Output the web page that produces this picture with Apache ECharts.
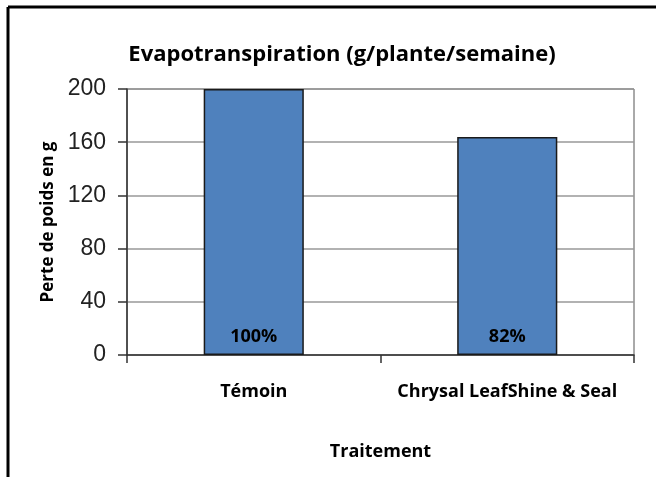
<!DOCTYPE html>
<html>
<head>
<meta charset="utf-8">
<script src="https://cdn.jsdelivr.net/npm/echarts@6/dist/echarts.min.js"></script>
<style>
    html, body { margin: 0; padding: 0; background: #fff; }
    #chart { width: 656px; height: 477px; }
</style>
</head>
<body>
<div id="chart"></div>
<script>
    const categories = ['Témoin', 'Chrysal LeafShine & Seal'];
    const weightLoss = [200, 164];
    const percentLabels = ['100%', '82%'];
    const yTicks = { min: 0, max: 200, interval: 40 };

    const myChart = echarts.init(document.getElementById('chart'));
    const boldFont = { fontFamily: 'Open Sans', fontWeight: 'bold', color: '#000' };
    const option = {
        backgroundColor: '#fff',
        animation: false,
        graphic: [
            { type: 'line', shape: { x1: 8, y1: 7, x2: 656, y2: 7 }, style: { stroke: '#000', lineWidth: 3 } },
            { type: 'line', shape: { x1: 8, y1: 7, x2: 8, y2: 477 }, style: { stroke: '#000', lineWidth: 3 } }
        ],
        title: {
            text: 'Evapotranspiration (g/plante/semaine)',
            left: 337,
            top: 39,
            textAlign: 'center',
            textStyle: Object.assign({ fontSize: 22 }, boldFont)
        },
        grid: {
            left: 127,
            right: 22,
            top: 89,
            bottom: 122,
            show: true,
            borderColor: '#555',
            borderWidth: 1
        },
        xAxis: {
            type: 'category',
            data: categories,
            name: 'Traitement',
            nameLocation: 'middle',
            nameGap: 88,
            nameTextStyle: Object.assign({ fontSize: 18 }, boldFont),
            axisLine: { lineStyle: { color: '#333', width: 1.5 } },
            axisTick: { show: true, length: 8, lineStyle: { color: '#333', width: 1.5 } },
            axisLabel: Object.assign({ margin: 28, fontSize: 18, interval: 0, hideOverlap: false }, boldFont)
        },
        yAxis: {
            type: 'value',
            min: yTicks.min,
            max: yTicks.max,
            interval: yTicks.interval,
            name: 'Perte de poids en g',
            nameLocation: 'middle',
            nameGap: 70,
            nameTextStyle: Object.assign({ fontSize: 17 }, boldFont),
            axisLine: { show: true, lineStyle: { color: '#333', width: 1.5 } },
            axisTick: { show: true, length: 9, lineStyle: { color: '#333', width: 1.5 } },
            axisLabel: { margin: 21, fontFamily: 'Liberation Sans', fontSize: 23, color: '#222' },
            splitLine: { show: true, lineStyle: { color: '#999', width: 1.5 } }
        },
        series: [
            {
                type: 'bar',
                data: weightLoss,
                barWidth: '39.5%',
                itemStyle: { color: '#4f81bd', borderColor: '#1a1a1a', borderWidth: 1.5 },
                label: Object.assign({
                    show: true,
                    position: 'insideBottom',
                    distance: 9,
                    formatter: function (p) { return percentLabels[p.dataIndex]; },
                    fontSize: 18
                }, boldFont)
            }
        ]
    };
    myChart.setOption(option);
</script>
</body>
</html>
